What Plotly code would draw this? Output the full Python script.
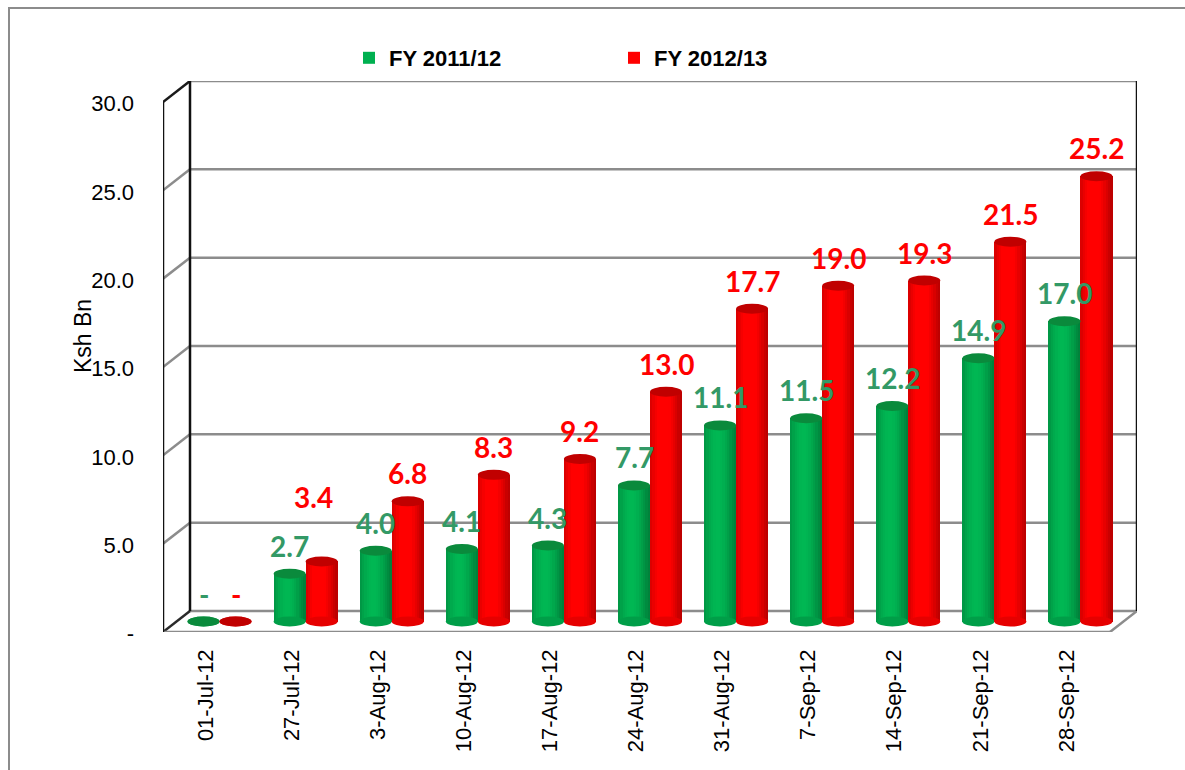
import math
import plotly.graph_objects as go

# ---------------- data ----------------
categories = ["01-Jul-12", "27-Jul-12", "3-Aug-12", "10-Aug-12", "17-Aug-12", "24-Aug-12",
              "31-Aug-12", "7-Sep-12", "14-Sep-12", "21-Sep-12", "28-Sep-12"]
series_names = ["FY 2011/12", "FY 2012/13"]
fy_2011_12 = [0.0, 2.7, 4.0, 4.1, 4.3, 7.7, 11.1, 11.5, 12.2, 14.9, 17.0]
fy_2012_13 = [0.0, 3.4, 6.8, 8.3, 9.2, 13.0, 17.7, 19.0, 19.3, 21.5, 25.2]
y_tickvals = [0, 5, 10, 15, 20, 25, 30]
y_ticktext = ["-", "5.0", "10.0", "15.0", "20.0", "25.0", "30.0"]
y_title = "Ksh Bn"

# ---------------- style / geometry ----------------
W, H = 1185, 770
L, R, T, B = 163, 1137, 81, 632          # plot area in pixels
DXP, DYP = 13.5, 10.5                     # half depth offset (px)
N = len(categories)
band = (R - L - 2 * DXP) / N              # px per category on mid plane
yscale = (B - T - 2 * DYP) / 30.0         # px per unit on mid plane
DXc = DXP / band
DYv = DYP / yscale
xr = [-0.5 - DXc, N - 0.5 + DXc]
yr = [-DYv, 30 + DYv]
bw = 32 / band                            # bar width in category units

GREEN = (0, 176, 80)
RED = (255, 0, 0)
GREEN_TOP = "#0a8a3c"
RED_TOP = "#c00000"
LBL_GREEN = "#339966"
LBL_RED = "#ff0000"
GRID = "#8c8c8c"
TICKFONT = "Liberation Sans, Arial, sans-serif"
LBLFONT = "Lato, Carlito, Calibri, sans-serif"

label_nudge = {(1, 1): (-8, 36)}          # (series, category) -> (dx, dy) px

def shade(rgb, f):
    return "rgb(%d,%d,%d)" % tuple(max(0, min(255, round(c * f))) for c in rgb)

fig = go.Figure()

series = [(fy_2011_12, GREEN, GREEN_TOP, LBL_GREEN, -bw),
          (fy_2012_13, RED, RED_TOP, LBL_RED, 0.0)]

NS = 14
for si, (vals, col, topcol, lblcol, off) in enumerate(series):
    fig.add_trace(go.Bar(x=categories, y=vals, name=series_names[si], width=bw, offset=off,
                         marker=dict(color=shade(col, 1.0), line=dict(width=0)),
                         showlegend=True, hoverinfo="x+y"))
    for k in range(NS):
        t = (k + 0.5) / NS
        u = max(0.0, math.cos((t - 0.42) * math.pi * 0.95))
        f = 0.74 + 0.30 * u
        fig.add_trace(go.Bar(x=categories, y=vals, width=bw / NS + 0.0005, offset=off + k * bw / NS,
                             marker=dict(color=shade(col, f), line=dict(width=0)),
                             showlegend=False, hoverinfo="skip"))

shapes = []
def line(x0, y0, x1, y1, color=GRID, width=2.5, layer="below"):
    shapes.append(dict(type="line", xref="x", yref="y", x0=x0, y0=y0, x1=x1, y1=y1,
                       line=dict(color=color, width=width), layer=layer))

xl, xrr = -0.5, N - 0.5
for v in y_tickvals:
    line(xl + DXc, v + DYv, xrr + DXc, v + DYv)
    if v == 30:
        line(xl + DXc, v + DYv, xl - DXc, v - DYv, color="#1a1a1a")
    elif v == 0:
        line(xl + DXc, v + DYv, xl - DXc, v - DYv, color="#2a2a2a")
    else:
        line(xl + DXc, v + DYv, xl - DXc, v - DYv)
line(xl - DXc, -DYv, xrr - DXc, -DYv)
line(xrr + DXc, DYv, xrr - DXc, -DYv)
line(xl + DXc, DYv, xl + DXc, 30 + DYv, color="#111111")
line(xl - DXc, -DYv, xl - DXc, 30 - DYv, color="#111111")
line(xrr + DXc, DYv, xrr + DXc, 30 + DYv, color="#111111")

for si, (vals, col, topcol, lblcol, off) in enumerate(series):
    for i, v in enumerate(vals):
        shapes.append(dict(type="circle", xref="x", yref="y", x0=i + off, x1=i + off + bw,
                           ysizemode="pixel", yanchor=0, y0=-5, y1=5,
                           fillcolor=shade(col, 0.9), line=dict(width=0), layer="above"))
        shapes.append(dict(type="circle", xref="x", yref="y", x0=i + off, x1=i + off + bw,
                           ysizemode="pixel", yanchor=v, y0=-5, y1=5,
                           fillcolor=topcol, line=dict(width=0), layer="above"))

def px2x(p):
    return (p - L) / (R - L)
def px2y(p):
    return (B - p) / (B - T)
shapes.append(dict(type="rect", xref="paper", yref="paper", x0=px2x(9), x1=px2x(1200),
                   y0=px2y(790), y1=px2y(8), line=dict(color=GRID, width=2), layer="below"))

annotations = []
for si, (vals, col, topcol, lblcol, off) in enumerate(series):
    for i, v in enumerate(vals):
        dx, dy = label_nudge.get((si, i), (0, 0))
        annotations.append(dict(x=i + off + bw / 2, y=v, xref="x", yref="y",
                                text="-" if v == 0 else f"{v:.1f}", showarrow=False,
                                xshift=dx, yshift=28 + dy, yanchor="middle",
                                font=dict(family=LBLFONT, size=28, color=lblcol, weight="bold")))
annotations.append(dict(text=y_title, xref="paper", yref="paper", x=px2x(83), y=px2y(336),
                        textangle=-90, showarrow=False, xanchor="center", yanchor="middle",
                        font=dict(family=TICKFONT, size=23, color="#000000")))

fig.update_layout(
    width=W, height=H, barmode="overlay", bargap=0,
    margin=dict(l=L, r=W - R, t=T, b=H - B, autoexpand=False),
    paper_bgcolor="white", plot_bgcolor="white",
    shapes=shapes, annotations=annotations,
    legend=dict(orientation="h", x=px2x(349), y=px2y(58), xanchor="left", yanchor="middle",
                font=dict(family=TICKFONT, size=22, color="#000000", weight="bold"),
                entrywidth=220, entrywidthmode="pixels", bgcolor="rgba(0,0,0,0)"),
    xaxis=dict(range=xr, showgrid=False, zeroline=False, showline=False, ticks="",
               tickangle=-90, ticklabelshift=-14, ticklabelstandoff=12,
               tickfont=dict(family=TICKFONT, size=22, color="#000000"), fixedrange=True),
    yaxis=dict(range=yr, showgrid=False, zeroline=False, showline=False, ticks="",
               tickvals=y_tickvals, ticktext=y_ticktext, ticklabelshift=12,
               ticklabelstandoff=28, tickfont=dict(family=TICKFONT, size=22, color="#000000"),
               fixedrange=True),
)

fig.write_html("out.html", config={"displayModeBar": False},
               post_script="document.body.style.margin='0px';")
